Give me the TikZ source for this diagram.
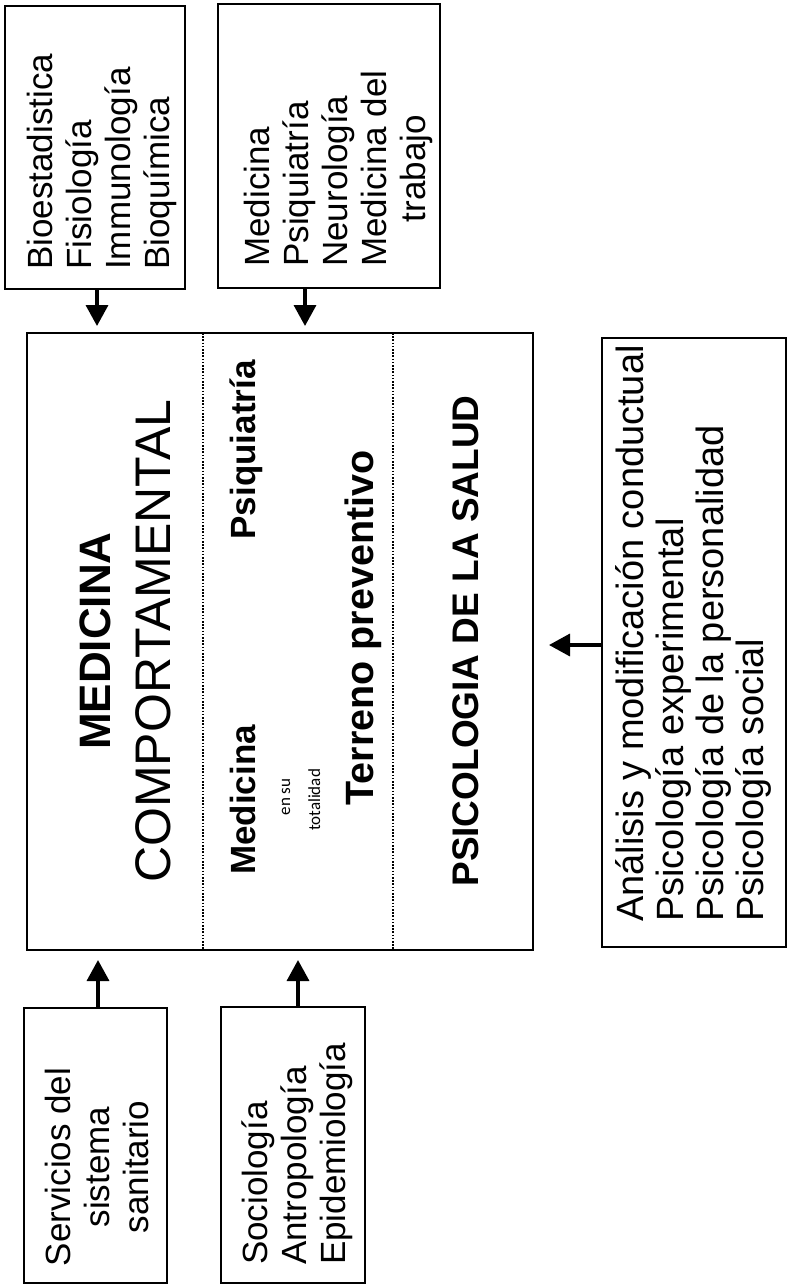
\documentclass[tikz,border=0pt]{standalone}
\usepackage{fontspec}
\setmainfont{Liberation Sans}
\newfontfamily\calib{Carlito}
\usetikzlibrary{arrows.meta}
\tikzset{
  caja/.style={draw,line width=2pt,inner sep=0pt},
  lista/.style={rotate=90,align=left,inner sep=0pt,anchor=north west,font=\fontsize{35}{39}\selectfont},
  rot/.style={rotate=90,inner sep=0pt,anchor=base},
  flecha/.style={line width=3.5pt,-{Triangle[width=22pt,length=21pt]}},
  sep/.style={line width=1.5pt,dash pattern=on 1.6pt off 1.6pt}
}
\begin{document}
\begin{tikzpicture}[x=1pt,y=-1pt]
\useasboundingbox (0,0) rectangle (790,1286);
% cajas
\node[caja,minimum width=180pt,minimum height=283pt] (bio) at (95,147.5) {};
\node[caja,minimum width=222pt,minimum height=284pt] (med) at (329,146) {};
\node[caja,minimum width=506pt,minimum height=617pt] (main) at (280,641.5) {};
\node[caja,minimum width=184pt,minimum height=609pt] (psi) at (694,642.5) {};
\node[caja,minimum width=143pt,minimum height=275pt] (serv) at (95.5,1145.5) {};
\node[caja,minimum width=144pt,minimum height=276pt] (soc) at (293,1145) {};
\draw[sep] (203,333) -- (203,950);
\draw[sep] (393,333) -- (393,950);
% textos
\node[lista] (biot) at (27,270) {Bioestadistica\\Fisiología\\Immunología\\Bioquímica};
\node[lista] (medt) at (242,267) {\begin{tabular}{@{}l@{}}Medicina\\Psiquiatría\\Neurología\\Medicina del\\\multicolumn{1}{@{}c@{}}{trabajo}\end{tabular}};
\node[lista,font=\fontsize{38}{40}\selectfont] (psit) at (615,922) {Análisis y modificación conductual\\Psicología experimental\\Psicología de la personalidad\\Psicología social};
\node[lista] (soct) at (242,1265) {Sociología\\Antropología\\Epidemiología};
\node[lista,align=center,anchor=center] (servt) at (97,1167) {Servicios del\\sistema\\sanitario};
\node[rot,font=\fontsize{44}{48}\selectfont\bfseries] (mc1) at (110,641) {MEDICINA};
\node[rot,font=\fontsize{50}{52}\selectfont] (mc2) at (170,641) {COMPORTAMENTAL};
\node[rot,font=\fontsize{35}{38}\selectfont\bfseries] (psq) at (255,450) {Psiquiatría};
\node[rot,font=\fontsize{35}{38}\selectfont\bfseries] (mdc) at (255,800) {Medicina};
\node[rot,font=\calib\fontsize{17}{20}\selectfont] (ensu) at (290,797) {en su};
\node[rot,font=\calib\fontsize{17}{20}\selectfont] (tot) at (320,800) {totalidad};
\node[rot,font=\fontsize{39.5}{42}\selectfont\bfseries] (ter) at (373,628) {Terreno preventivo};
\node[rot,font=\fontsize{37}{40}\selectfont\bfseries] (ps) at (478,641) {PSICOLOGIA DE LA SALUD};
% flechas
\foreach \n/\d in {bio/2,med/-24}
  \draw[flecha,shorten >=6pt] ([xshift=\d pt]\n.south) -- ([xshift=\d pt]\n.south |- main.north);
\foreach \n/\d in {serv/2.5,soc/5}
  \draw[flecha,shorten >=9pt] ([xshift=\d pt]\n.north) -- ([xshift=\d pt]\n.north |- main.south);
\draw[flecha,shorten >=15pt] ([yshift=-2.5pt]psi.west) -- ([yshift=-2.5pt]psi.west -| main.east);
\end{tikzpicture}
\end{document}
